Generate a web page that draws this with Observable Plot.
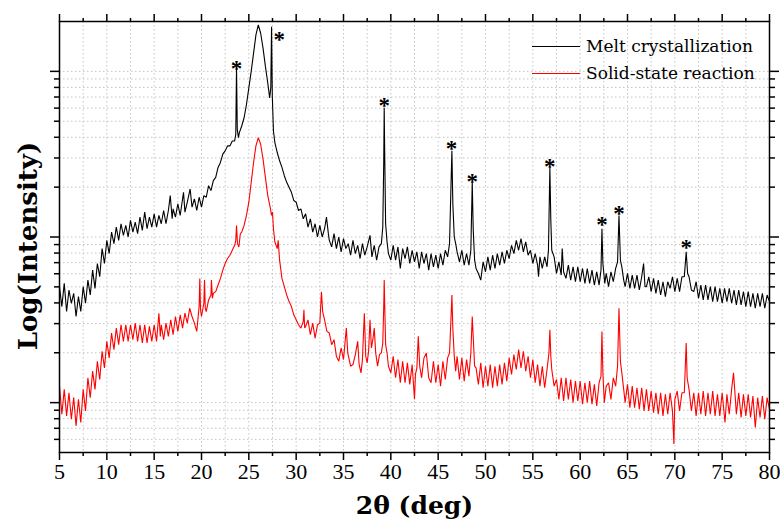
<!DOCTYPE html>
<html><head><meta charset="utf-8">
<script src="https://cdn.jsdelivr.net/npm/d3@7"></script>
<script src="https://cdn.jsdelivr.net/npm/@observablehq/plot@0.6"></script>
<style>body{margin:0;background:#fff}</style>
</head><body><div id="chart"></div>
<script>
// [2θ (deg), log10(intensity, counts)]
const melt = [[5.00,2.70],[5.25,2.58],[5.50,2.72],[5.75,2.55],[6.00,2.68],[6.25,2.60],[6.50,2.66],[6.75,2.52],[7.00,2.64],[7.25,2.55],[7.50,2.70],[7.75,2.60],[8.00,2.74],[8.25,2.65],[8.50,2.80],[8.75,2.69],[9.00,2.84],[9.25,2.76],[9.50,2.93],[9.75,2.84],[10.00,2.98],[10.25,2.90],[10.50,3.03],[10.75,2.96],[11.00,3.06],[11.25,2.98],[11.50,3.08],[11.75,3.01],[12.00,3.07],[12.25,3.00],[12.50,3.10],[12.75,3.03],[13.00,3.09],[13.25,3.02],[13.50,3.12],[13.75,3.04],[14.00,3.15],[14.25,3.05],[14.50,3.12],[14.75,3.06],[15.00,3.14],[15.25,3.06],[15.50,3.13],[15.75,3.08],[16.00,3.16],[16.25,3.08],[16.50,3.16],[16.70,3.25],[16.90,3.11],[17.00,3.17],[17.25,3.12],[17.50,3.20],[17.75,3.13],[18.10,3.27],[18.25,3.15],[18.50,3.21],[18.80,3.29],[19.00,3.18],[19.25,3.23],[19.50,3.16],[19.75,3.24],[20.00,3.18],[20.25,3.25],[20.50,3.24],[20.75,3.31],[21.00,3.28],[21.25,3.34],[21.50,3.36],[21.75,3.42],[22.00,3.45],[22.25,3.50],[22.50,3.52],[22.75,3.55],[23.00,3.55],[23.25,3.58],[23.50,3.58],[23.62,3.62],[23.70,4.02],[23.78,3.65],[23.90,3.60],[24.00,3.63],[24.25,3.67],[24.50,3.72],[24.75,3.80],[25.00,3.90],[25.25,4.00],[25.50,4.11],[25.75,4.22],[26.00,4.28],[26.25,4.23],[26.50,4.14],[26.75,4.03],[27.00,3.93],[27.20,3.84],[27.32,3.90],[27.40,4.27],[27.48,3.85],[27.60,3.64],[27.75,3.57],[28.00,3.51],[28.25,3.46],[28.50,3.42],[28.75,3.37],[29.00,3.33],[29.25,3.30],[29.50,3.27],[29.75,3.22],[30.00,3.21],[30.25,3.16],[30.50,3.17],[30.75,3.11],[31.00,3.14],[31.25,3.06],[31.50,3.11],[31.75,3.03],[32.00,3.08],[32.25,3.00],[32.50,3.07],[32.75,3.00],[33.00,3.05],[33.20,3.12],[33.40,3.02],[33.50,2.98],[33.75,2.94],[34.00,3.02],[34.25,2.93],[34.50,3.00],[34.75,2.91],[35.00,2.99],[35.25,2.93],[35.50,2.96],[35.75,2.89],[36.00,2.98],[36.25,2.90],[36.50,2.95],[36.75,2.87],[37.00,2.96],[37.25,2.89],[37.50,2.94],[37.80,3.01],[38.00,2.88],[38.25,2.95],[38.50,2.86],[38.75,2.94],[39.00,2.96],[39.15,3.06],[39.25,3.45],[39.30,3.78],[39.35,3.52],[39.45,3.08],[39.60,2.97],[39.75,2.90],[40.00,2.86],[40.25,2.95],[40.50,2.86],[40.75,2.94],[41.00,2.81],[41.25,2.93],[41.50,2.87],[41.75,2.94],[42.00,2.84],[42.25,2.92],[42.50,2.85],[42.75,2.91],[43.00,2.81],[43.25,2.91],[43.50,2.84],[43.75,2.90],[44.00,2.80],[44.25,2.90],[44.50,2.82],[44.75,2.89],[45.00,2.81],[45.25,2.90],[45.50,2.83],[45.75,2.92],[46.00,2.88],[46.20,2.96],[46.35,3.30],[46.45,3.52],[46.55,3.20],[46.70,3.00],[46.85,2.96],[47.00,2.91],[47.25,2.85],[47.50,2.92],[47.75,2.83],[48.00,2.90],[48.25,2.83],[48.45,2.92],[48.60,3.33],[48.70,3.05],[48.85,2.86],[49.00,2.81],[49.25,2.78],[49.50,2.74],[49.75,2.85],[50.00,2.79],[50.25,2.88],[50.50,2.80],[50.75,2.89],[51.00,2.81],[51.25,2.90],[51.50,2.83],[51.75,2.91],[52.00,2.84],[52.25,2.92],[52.50,2.87],[52.75,2.95],[53.00,2.90],[53.25,2.98],[53.50,2.92],[53.75,2.99],[54.00,2.91],[54.25,2.97],[54.50,2.89],[54.75,2.92],[55.00,2.84],[55.25,2.90],[55.50,2.83],[55.60,2.76],[55.75,2.88],[56.00,2.81],[56.25,2.88],[56.50,2.82],[56.65,2.92],[56.80,3.42],[56.90,3.10],[57.00,2.92],[57.25,2.88],[57.50,2.78],[57.75,2.85],[58.00,2.77],[58.10,2.93],[58.25,2.79],[58.50,2.75],[58.75,2.83],[59.00,2.74],[59.25,2.82],[59.50,2.73],[59.75,2.82],[60.00,2.73],[60.25,2.81],[60.50,2.72],[60.75,2.81],[61.00,2.72],[61.25,2.80],[61.50,2.71],[61.75,2.79],[62.00,2.71],[62.20,2.80],[62.30,3.05],[62.40,2.84],[62.60,2.72],[62.75,2.78],[63.00,2.70],[63.25,2.79],[63.50,2.73],[63.75,2.81],[63.95,2.85],[64.10,3.13],[64.25,2.86],[64.40,2.82],[64.60,2.74],[64.75,2.70],[65.00,2.78],[65.25,2.69],[65.50,2.77],[65.75,2.69],[66.00,2.77],[66.25,2.68],[66.50,2.76],[66.70,2.84],[66.85,2.70],[67.00,2.70],[67.25,2.76],[67.50,2.67],[67.75,2.75],[68.00,2.66],[68.25,2.74],[68.50,2.65],[68.75,2.73],[69.00,2.64],[69.25,2.73],[69.50,2.69],[69.75,2.76],[70.00,2.67],[70.25,2.75],[70.50,2.67],[70.75,2.76],[71.00,2.76],[71.20,2.91],[71.35,2.78],[71.50,2.76],[71.75,2.68],[72.00,2.67],[72.25,2.73],[72.50,2.63],[72.75,2.71],[73.00,2.62],[73.25,2.71],[73.50,2.62],[73.75,2.70],[74.00,2.61],[74.25,2.70],[74.50,2.61],[74.75,2.69],[75.00,2.60],[75.25,2.69],[75.50,2.61],[75.75,2.69],[76.00,2.60],[76.25,2.68],[76.50,2.59],[76.75,2.68],[77.00,2.59],[77.25,2.67],[77.50,2.58],[77.75,2.67],[78.00,2.58],[78.25,2.66],[78.50,2.57],[78.75,2.66],[79.00,2.58],[79.25,2.66],[79.50,2.57],[79.75,2.65],[80.00,2.61]];

const solid = [[5.00,2.10],[5.25,1.93],[5.50,2.08],[5.75,1.92],[6.00,2.06],[6.25,1.90],[6.50,2.03],[6.75,1.86],[7.00,2.02],[7.25,1.88],[7.50,2.08],[7.75,1.95],[8.00,2.15],[8.25,2.03],[8.50,2.19],[8.75,2.08],[9.00,2.25],[9.25,2.14],[9.50,2.31],[9.75,2.21],[10.00,2.37],[10.25,2.27],[10.50,2.42],[10.75,2.32],[11.00,2.45],[11.25,2.35],[11.50,2.47],[11.75,2.37],[12.00,2.47],[12.25,2.37],[12.50,2.47],[12.75,2.38],[13.00,2.48],[13.25,2.37],[13.50,2.47],[13.75,2.36],[14.00,2.47],[14.25,2.36],[14.50,2.46],[14.75,2.37],[15.00,2.47],[15.25,2.37],[15.50,2.54],[15.65,2.40],[15.75,2.47],[16.00,2.38],[16.25,2.48],[16.50,2.40],[16.75,2.50],[17.00,2.41],[17.25,2.52],[17.50,2.43],[17.75,2.53],[18.00,2.45],[18.25,2.54],[18.50,2.48],[18.75,2.57],[19.00,2.52],[19.25,2.48],[19.50,2.43],[19.75,2.58],[19.82,2.75],[19.90,2.56],[20.00,2.52],[20.25,2.60],[20.32,2.74],[20.40,2.57],[20.50,2.55],[20.75,2.62],[21.00,2.65],[21.05,2.74],[21.15,2.63],[21.25,2.66],[21.50,2.67],[21.75,2.71],[22.00,2.75],[22.25,2.80],[22.50,2.84],[22.75,2.87],[23.00,2.89],[23.25,2.92],[23.50,2.95],[23.62,2.98],[23.70,3.07],[23.80,2.96],[23.95,2.94],[24.10,3.02],[24.25,3.03],[24.50,3.07],[24.75,3.13],[25.00,3.21],[25.25,3.33],[25.50,3.45],[25.75,3.55],[26.00,3.60],[26.25,3.56],[26.50,3.47],[26.75,3.36],[27.00,3.25],[27.25,3.18],[27.40,3.13],[27.50,3.15],[27.60,3.05],[27.75,2.97],[28.00,2.93],[28.10,2.98],[28.25,2.86],[28.50,2.75],[28.75,2.70],[29.00,2.65],[29.25,2.61],[29.50,2.58],[29.75,2.53],[30.00,2.50],[30.25,2.47],[30.50,2.45],[30.75,2.49],[30.82,2.56],[30.90,2.45],[31.00,2.46],[31.25,2.50],[31.50,2.41],[31.75,2.48],[32.00,2.39],[32.25,2.47],[32.50,2.48],[32.67,2.67],[32.80,2.55],[33.00,2.50],[33.25,2.43],[33.50,2.42],[33.75,2.35],[34.00,2.38],[34.25,2.28],[34.50,2.25],[34.75,2.33],[35.00,2.26],[35.30,2.45],[35.45,2.30],[35.75,2.22],[36.00,2.23],[36.25,2.29],[36.50,2.37],[36.65,2.23],[36.85,2.18],[37.00,2.26],[37.20,2.54],[37.35,2.28],[37.50,2.24],[37.65,2.31],[37.80,2.50],[37.95,2.33],[38.10,2.38],[38.25,2.45],[38.40,2.30],[38.60,2.22],[38.80,2.29],[39.00,2.30],[39.15,2.36],[39.25,2.58],[39.30,2.74],[39.35,2.60],[39.45,2.35],[39.60,2.30],[39.75,2.22],[40.00,2.18],[40.25,2.28],[40.50,2.15],[40.75,2.26],[41.00,2.12],[41.25,2.25],[41.50,2.12],[41.75,2.24],[42.00,2.11],[42.25,2.23],[42.50,2.02],[42.60,2.17],[42.75,2.21],[42.90,2.40],[43.05,2.22],[43.25,2.15],[43.50,2.27],[43.75,2.30],[44.00,2.15],[44.25,2.12],[44.50,2.25],[44.75,2.12],[45.00,2.23],[45.25,2.10],[45.50,2.25],[45.75,2.14],[46.00,2.27],[46.20,2.30],[46.35,2.50],[46.45,2.65],[46.55,2.45],[46.70,2.28],[46.85,2.19],[47.00,2.28],[47.25,2.14],[47.50,2.27],[47.75,2.13],[48.00,2.26],[48.25,2.16],[48.45,2.30],[48.60,2.52],[48.70,2.40],[48.85,2.22],[49.00,2.21],[49.25,2.11],[49.50,2.24],[49.75,2.09],[50.00,2.22],[50.25,2.10],[50.50,2.23],[50.75,2.09],[51.00,2.22],[51.25,2.10],[51.50,2.23],[51.75,2.11],[52.00,2.24],[52.25,2.13],[52.50,2.27],[52.75,2.17],[53.00,2.29],[53.25,2.20],[53.50,2.32],[53.75,2.21],[54.00,2.31],[54.25,2.19],[54.50,2.28],[54.75,2.15],[55.00,2.26],[55.25,2.12],[55.50,2.23],[55.75,2.10],[56.00,2.22],[56.25,2.09],[56.50,2.20],[56.70,2.30],[56.80,2.44],[56.90,2.28],[57.00,2.20],[57.25,2.10],[57.50,2.14],[57.75,2.02],[58.00,2.15],[58.25,2.01],[58.50,2.15],[58.75,2.02],[59.00,2.14],[59.25,2.00],[59.50,2.13],[59.75,2.01],[60.00,2.13],[60.25,1.99],[60.50,2.12],[60.75,2.00],[61.00,2.13],[61.25,1.99],[61.50,2.11],[61.75,1.98],[62.00,2.12],[62.20,2.16],[62.30,2.43],[62.40,2.18],[62.55,2.00],[62.75,2.10],[63.00,2.12],[63.25,2.02],[63.50,2.15],[63.75,2.10],[63.95,2.22],[64.10,2.57],[64.25,2.25],[64.40,2.18],[64.60,2.08],[64.75,2.00],[65.00,2.11],[65.25,1.97],[65.50,2.10],[65.75,1.97],[66.00,2.09],[66.25,1.96],[66.50,2.09],[66.75,1.95],[67.00,2.08],[67.25,1.95],[67.50,2.07],[67.75,1.94],[68.00,2.06],[68.25,1.93],[68.50,2.06],[68.75,1.92],[69.00,2.05],[69.25,1.93],[69.50,2.06],[69.75,1.95],[69.90,1.75],[70.00,2.02],[70.25,2.07],[70.50,1.95],[70.75,2.06],[71.00,2.06],[71.20,2.36],[71.30,2.15],[71.50,2.08],[71.75,1.95],[72.00,2.06],[72.25,1.92],[72.50,2.06],[72.75,1.93],[73.00,2.07],[73.25,1.92],[73.50,2.06],[73.75,1.93],[74.00,2.07],[74.25,1.92],[74.50,2.05],[74.75,1.92],[75.00,2.06],[75.30,1.88],[75.50,2.05],[75.75,1.93],[76.00,2.08],[76.20,2.18],[76.35,2.06],[76.50,1.93],[76.75,2.06],[77.00,1.91],[77.25,2.05],[77.50,1.92],[77.75,2.05],[78.00,1.91],[78.25,2.04],[78.50,1.85],[78.75,2.03],[79.00,1.91],[79.25,2.04],[79.50,1.90],[79.75,2.03],[80.00,1.96]];

// asterisk marker positions [2θ, log10 intensity]
const stars = [[23.7,4.05],[28.2,4.23],[39.3,3.83],[46.4,3.57],[48.6,3.37],[56.8,3.46],[62.3,3.11],[64.1,3.18],[71.2,2.97]];

const seriesNames = ["Melt crystallization", "Solid-state reaction"];
const seriesColors = ["#000000", "#ff0000"];

const xMajor = [5,10,15,20,25,30,35,40,45,50,55,60,65,70,75,80];
const xMinor = [7.5,12.5,17.5,22.5,27.5,32.5,37.5,42.5,47.5,52.5,57.5,62.5,67.5,72.5,77.5];
const yMajor = [100, 1000, 10000];
const yMinor = [60,70,80,90,200,300,400,500,600,700,800,900,2000,3000,4000,5000,6000,7000,8000,9000];
const xTitle = "2θ (deg)";
const yTitle = "Log(Intensity)";

const toRow = name => ([t, l]) => ({theta: t, I: Math.pow(10, l), series: name});
const rows = [...melt.map(toRow(seriesNames[0])), ...solid.map(toRow(seriesNames[1]))];
const starRows = stars.map(([t, l]) => ({theta: t, I: Math.pow(10, l)}));

const FONT = "'Liberation Serif', 'Times New Roman', serif";
const TITLE_FONT = "'DejaVu Serif', serif";
const gridStyle = {stroke: "#c4c4c4", strokeOpacity: 1, strokeWidth: 1, strokeDasharray: "1.5,2.5"};
const blank = () => "";

const chart = Plot.plot({
  width: 781, height: 522,
  marginLeft: 59, marginRight: 12, marginTop: 21, marginBottom: 70,
  style: {fontFamily: FONT, background: "#fff", color: "#000"},
  x: {domain: [5, 80]},
  y: {type: "log", domain: [50, 20000]},
  color: {domain: seriesNames, range: seriesColors},
  marks: [
    Plot.gridX(xMinor.concat(xMajor), gridStyle),
    Plot.gridY(yMinor.concat(yMajor), gridStyle),
    Plot.line(rows, {x: "theta", y: "I", z: "series", stroke: "series", strokeWidth: 1.1, strokeLinejoin: "miter"}),
    Plot.text(starRows, {x: "theta", y: "I", text: () => "*", fontSize: 23, fontWeight: "bold", dy: 6, fill: "#000"}),
    Plot.axisX({anchor: "bottom", ticks: xMajor, tickSize: 8, tickPadding: 3, fontSize: 22, strokeWidth: 1.5, label: null, tickFormat: d => String(d)}),
    Plot.axisX({anchor: "bottom", ticks: xMinor, tickSize: 4, strokeWidth: 1.5, label: null, tickFormat: blank}),
    Plot.axisX({anchor: "top", ticks: xMajor, tickSize: 8, strokeWidth: 1.5, label: null, tickFormat: blank}),
    Plot.axisX({anchor: "top", ticks: xMinor, tickSize: 4, strokeWidth: 1.5, label: null, tickFormat: blank}),
    Plot.axisY({anchor: "left", ticks: yMajor, tickSize: 9, strokeWidth: 1.5, label: null, tickFormat: blank}),
    Plot.axisY({anchor: "left", ticks: yMinor, tickSize: 5, strokeWidth: 1.5, label: null, tickFormat: blank}),
    Plot.axisY({anchor: "right", ticks: yMajor, tickSize: 9, strokeWidth: 1.5, label: null, tickFormat: blank}),
    Plot.axisY({anchor: "right", ticks: yMinor, tickSize: 5, strokeWidth: 1.5, label: null, tickFormat: blank}),
    Plot.frame({stroke: "#000", strokeWidth: 1.5}),
    Plot.text([xTitle], {frameAnchor: "bottom", textAnchor: "middle", lineAnchor: "middle", dy: 53, fontSize: 25, fontWeight: "bold", fontFamily: TITLE_FONT, fill: "#000"}),
    Plot.text([yTitle], {frameAnchor: "left", textAnchor: "middle", lineAnchor: "middle", dx: -31, dy: 9, rotate: -90, fontSize: 26, fontWeight: "bold", fontFamily: TITLE_FONT, fill: "#000"})
  ]
});
document.getElementById("chart").appendChild(chart);

// legend inside the frame (top right)
const svg = d3.select(chart);
const leg = svg.append("g").attr("font-family", TITLE_FONT).attr("font-size", 17).attr("text-anchor", "start");
seriesNames.forEach((name, i) => {
  const y = 46.5 + i * 27;
  leg.append("line").attr("x1", 532).attr("x2", 580).attr("y1", y).attr("y2", y)
    .attr("stroke", seriesColors[i]).attr("stroke-width", 1);
  leg.append("text").attr("x", 586).attr("y", y).attr("dy", "0.35em").attr("fill", "#000").text(name);
});
</script>
</body></html>
